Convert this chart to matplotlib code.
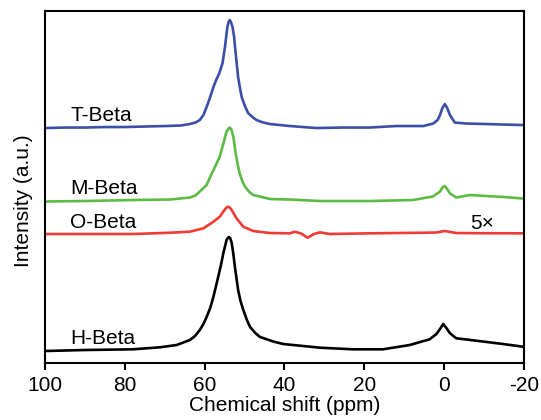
import matplotlib.pyplot as plt

plt.rcParams['font.family'] = ['Liberation Sans', 'DejaVu Sans']

# chemical shift (ppm) and intensity above each trace's own baseline
t_ppm = [100, 95, 90, 85, 80, 75, 70, 66, 63.7, 62.3, 61.2, 60.3, 59.5, 58.6, 57.8, 57.0,
         56.3, 55.5, 54.9, 54.3, 54.0, 53.7, 53.4, 53.0, 52.6, 52.3, 51.6, 51.1, 50.7,
         49.9, 49.1, 48.0, 47.0, 45.3, 43.6, 38.6, 32, 25, 18.6,
         12, 5.2, 2.7, 1.6, 1.0, 0.4, -0.2, -0.8, -1.5, -2.7, -5.6, -10.6, -15, -19.8]
t_int = [0, 0.5, 0.5, 1, 1, 1.5, 2, 2.5, 4, 5.5, 8, 13, 21, 31, 41, 49,
         55, 65, 81, 101, 106, 108, 106, 101, 91, 78, 51, 39, 31,
         22, 15, 11, 8, 5.5, 4, 2, 0, 0.5, 0.5,
         2, 2, 4.5, 8, 13, 20, 24, 20, 13, 5.5, 4.5, 4, 3.5, 3]

m_ppm = [100, 90, 78, 68.7, 63.7, 62.3, 61.2, 59.5, 58.2, 57.0, 56.2, 55.3, 54.5, 54.0,
         53.7, 53.3, 52.8, 52.2, 51.7, 51.2, 50.5, 49.9, 48.8, 47.8, 43.6, 38.6, 31,
         18.6, 7.8, 2.8, 1.0, 0.4, -0.2, -0.8, -1.5, -3.1, -6.5, -10.6, -15, -19.8]
m_int = [0, 0.5, 1.5, 2, 4, 6, 10, 16.5, 28, 38, 45, 58, 70, 73,
         74, 72, 65, 48, 37, 28, 20, 15, 9.5, 6.5, 2.5, 2, 0.5,
         0.5, 1.5, 5, 10, 14, 15.5, 12.5, 8, 4, 6.5, 5.5, 4.5, 3]

o_ppm = [100, 88, 78, 68.7, 63.7, 60.3, 57.8, 56.2, 54.9, 54.5, 54.1, 53.7, 53.2, 52.0,
         50.3, 47.8, 43.6, 38.6, 37.4, 35.8, 34.2, 32.6, 31.1, 28.6, 18.6, 5.2, 2,
         -0.2, -3.1, -10, -19.8]
o_int = [0, 0, 0, 1.3, 2.3, 5.7, 12.3, 17.3, 24.7, 26.5, 27.3, 26.5, 24, 15.7,
         7.3, 3, 1, 0.7, 2.3, 0.5, -3.7, 0, 1.7, 0, 0.7, 1.3, 1.5,
         3, 1, 0.8, 0.7]

h_ppm = [100, 90, 78, 71.2, 67, 63.7, 62.4, 61.2, 60.3, 59.5, 58.6, 57.8, 56.6, 55.9,
         55.3, 54.8, 54.5, 54.2, 53.9, 53.6, 53.2, 52.8, 52.4, 51.6, 51.0, 50.3, 49.4,
         48.6, 47.3, 46.1, 42.8, 40.3, 37.8, 31.1, 22.8, 15.3,
         8.6, 3.6, 1.9, 1.0, 0.2, -0.6, -1.5, -3.1, -8.1, -14.8, -19.8]
h_int = [0, 1, 1.7, 3.7, 6, 11, 15, 21, 27, 34, 43, 54, 74, 86,
         98, 106, 111, 113, 114, 113, 108, 97, 84, 61, 50, 41, 31,
         24, 18, 14, 9.5, 7, 6, 3.3, 1.7, 1.7,
         6, 11.7, 17, 22, 27, 23, 17.7, 12.7, 10.3, 7, 4.3]

names = ['T-Beta', 'M-Beta', 'O-Beta', 'H-Beta']
colors = ['#3a50a8', '#5cbb45', '#ef3b33', '#000000']
offsets = [235, 161.5, 129, 12]
label_y = [242, 169, 135, 19]

fig = plt.figure(figsize=(5.41, 4.2), dpi=100)
ax = fig.add_axes([0.0832, 0.1357, 0.885, 0.838])

traces = [(t_ppm, t_int), (m_ppm, m_int), (o_ppm, o_int), (h_ppm, h_int)]
for (x, y), name, c, off, ly in zip(traces, names, colors, offsets, label_y):
    ax.plot(x, [v + off for v in y], color=c, lw=1.9, solid_joinstyle='round')
    ax.text(93.7, ly, name, fontsize=15, va='baseline', ha='left')

ax.text(-6.5, 134, '5\u00d7', fontsize=15, va='baseline', ha='left')

ax.set_xlim(100, -20)
ax.set_ylim(0, 352)
ax.set_xticks([100, 80, 60, 40, 20, 0, -20])
ax.set_xticklabels(['100', '80', '60', '40', '20', '0', '-20'])
ax.set_yticks([])
ax.tick_params(axis='x', direction='out', length=5, width=1.5, labelsize=15, pad=4)
for s in ax.spines.values():
    s.set_linewidth(1.5)

ax.set_xlabel('Chemical shift (ppm)', fontsize=15, labelpad=1)
ax.set_ylabel('Intensity (a.u.)', fontsize=15)
ax.yaxis.set_label_coords(-0.025, 0.46)

plt.savefig('out.png', dpi=100)
